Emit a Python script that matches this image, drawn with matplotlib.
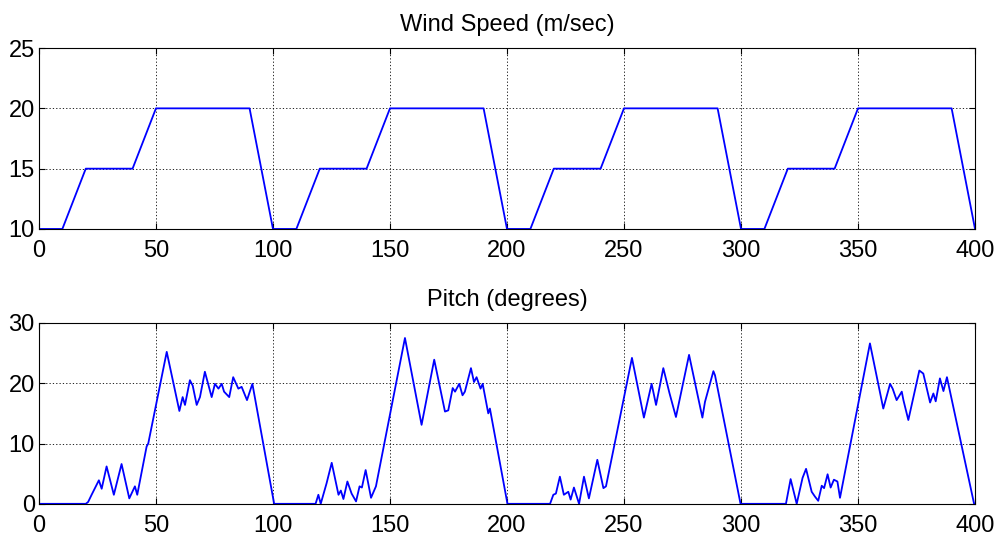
import matplotlib
matplotlib.use('Agg')
import matplotlib.pyplot as plt

# wind speed profile (m/sec), repeating 100 s cycle
wind_t = [0, 10, 20, 40, 50, 90, 100, 110, 120, 140, 150, 190, 200,
          210, 220, 240, 250, 290, 300, 310, 320, 340, 350, 390, 400]
wind_v = [10, 10, 15, 15, 20, 20, 10, 10, 15, 15, 20, 20, 10,
          10, 15, 15, 20, 20, 10, 10, 15, 15, 20, 20, 10]

# blade pitch response (degrees)
pitch_t = [0, 20, 21, 22.5, 24.6, 25.6, 26.8, 28.9, 32.0, 35.3, 38.6, 41.0, 42.0,
           46.0, 46.7, 54.6, 60.0, 61.4, 62.4, 64.5, 65.7, 67.4, 68.8, 70.9, 73.8,
           75.2, 76.7, 78.1, 79.1, 81.3, 83.0, 85.2, 86.6, 88.9, 91.2, 100.5,
           118.2, 119.4, 120.4, 122.9, 125.1, 128.0, 129.0, 130.1, 131.8, 133.6,
           135.5, 137.0, 138.0, 139.6, 141.9, 144.0, 156.4, 163.5, 168.9, 173.5,
           174.9, 176.8, 177.8, 179.6, 181.0, 182.0, 184.6, 185.9, 187.0, 188.7,
           189.6, 192.0, 192.7, 200.2,
           218.4, 219.8, 220.9, 222.6, 224.3, 226.2, 227.2, 228.6, 230.8, 232.9,
           235.0, 238.6, 241.2, 242.3, 246.6, 253.4, 258.5, 261.8, 263.7, 266.8,
           269.4, 272.2, 277.8, 283.5, 284.6, 288.2, 288.9, 299.8,
           319.2, 321.2, 323.8, 326.3, 327.8, 330.2, 331.6, 333.0, 334.5, 335.5,
           337.0, 338.3, 339.7, 341.2, 342.3, 355.1, 360.8, 363.7, 364.8, 366.5,
           368.7, 369.4, 371.5, 376.2, 377.9, 380.8, 382.2, 383.2, 385.0, 386.5,
           388.0, 399.6]
pitch_v = [0, 0, 0.3, 1.5, 3.1, 3.9, 2.5, 6.2, 1.5, 6.6, 0.9, 2.9, 1.5,
           9.5, 10.0, 25.2, 15.4, 17.7, 16.4, 20.5, 19.6, 16.4, 17.7, 21.9, 17.7,
           19.9, 19.1, 19.9, 18.6, 17.7, 21.0, 19.1, 19.4, 17.2, 19.9, 0,
           0, 1.5, 0, 3.4, 6.8, 1.5, 2.2, 0.8, 3.7, 1.7,
           0.4, 2.9, 2.7, 5.6, 1.0, 2.9, 27.5, 13.1, 23.9, 15.3,
           15.5, 19.2, 18.6, 19.9, 18.0, 18.6, 22.5, 20.2, 21.0, 19.1,
           19.9, 15.0, 15.8, 0,
           0, 1.5, 1.7, 4.5, 1.5, 2.0, 0.7, 2.7, 0, 4.5,
           0.9, 7.3, 2.6, 2.9, 11.1, 24.2, 14.3, 19.9, 16.4, 22.5,
           18.4, 14.4, 24.7, 14.3, 16.9, 22.0, 21.3, 0,
           0, 4.1, 0, 4.3, 5.8, 2.0, 1.2, 0.5, 3.0, 2.6,
           4.9, 2.7, 4.0, 3.7, 1.0, 26.6, 15.8, 19.9, 19.1, 17.2,
           18.6, 17.2, 13.9, 22.1, 21.6, 16.8, 18.3, 17.0, 20.8, 18.7,
           21.0, 0]

x_ticks = [0, 50, 100, 150, 200, 250, 300, 350, 400]

plt.rcParams['font.family'] = ['Liberation Sans', 'DejaVu Sans']
plt.rcParams['font.size'] = 17

fig = plt.figure(figsize=(9.99, 5.40), dpi=100)
ax1 = fig.add_axes([0.039, 0.576, 0.937, 0.335])
ax2 = fig.add_axes([0.039, 0.067, 0.937, 0.335])


def style(ax, yticks):
    ax.set_xlim(0, 400)
    ax.set_ylim(yticks[0], yticks[-1])
    ax.set_xticks(x_ticks)
    ax.set_yticks(yticks)
    ax.tick_params(direction='in', length=4, width=0.8, top=True, right=True,
                   labelsize=17)
    ax.tick_params(axis='x', pad=8)
    ax.tick_params(axis='y', pad=3)
    ax.grid(True, color='k', linestyle=(0, (1.5, 2.5)), linewidth=0.6)
    for s in ax.spines.values():
        s.set_linewidth(0.8)


ax1.plot(wind_t, wind_v, color='#0000ff', linewidth=1.3)
style(ax1, [10, 15, 20, 25])
ax1.set_title('Wind Speed (m/sec)', fontsize=17, pad=12)

ax2.plot(pitch_t + [400], pitch_v + [0], color='#0000ff', linewidth=1.3)
style(ax2, [0, 10, 20, 30])
ax2.set_title('Pitch (degrees)', fontsize=17, pad=12)

fig.savefig('out.png', dpi=100)
